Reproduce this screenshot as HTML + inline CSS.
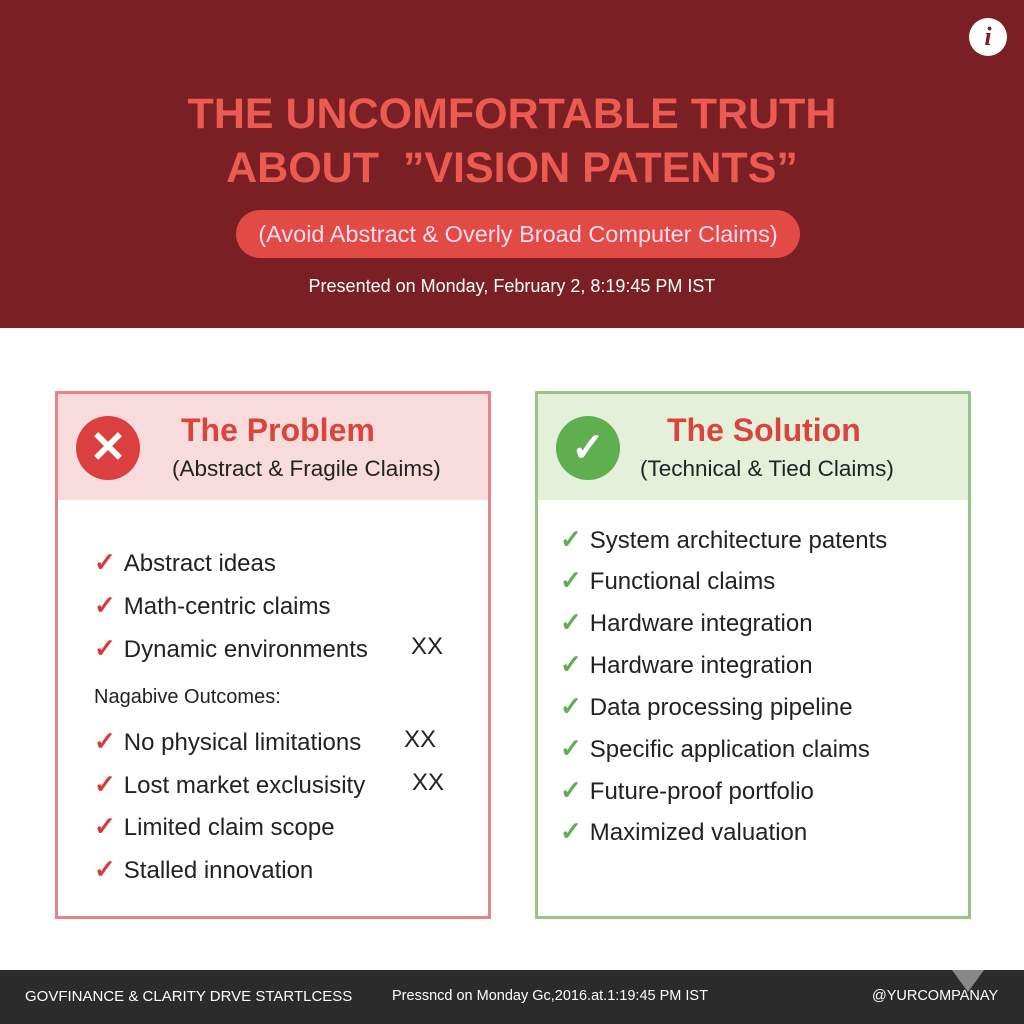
<!DOCTYPE html>
<html><head><style>
body{margin:0;width:1024px;height:1024px;position:relative;background:#fff;font-family:"Liberation Sans",sans-serif;overflow:hidden}
.a{position:absolute;white-space:nowrap}
.hdr{position:absolute;left:0;top:0;width:1024px;height:328px;background:#7a2025}
.t{left:0;width:1024px;text-align:center;color:#ec5a50;font-weight:bold;font-size:43px}
.box{position:absolute;top:391px;width:430px;height:522px;border:3px solid}
.li{font-size:24px;color:#222}
.ck{font-weight:bold;margin-right:8px;font-size:26px}
</style></head><body>
<div class="hdr"></div>
<div class="a" style="left:969px;top:18px;width:38px;height:38px;border-radius:50%;background:#fff;color:#7a2025;font:italic bold 26px 'Liberation Serif',serif;text-align:center;line-height:38px">i</div>
<div class="a t" style="top:90px">THE UNCOMFORTABLE TRUTH</div>
<div class="a t" style="top:144px">ABOUT &nbsp;”VISION PATENTS”</div>
<div class="a" style="left:236px;top:210px;width:564px;height:48px;border-radius:24px;background:#e14a45;color:#fde;font-size:23.5px;text-align:center;line-height:48px">(Avoid Abstract &amp; Overly Broad Computer Claims)</div>
<div class="a" style="left:0;width:1024px;top:276px;text-align:center;color:#fff;font-size:18px">Presented on Monday, February 2, 8:19:45 PM IST</div>

<div class="box" style="left:55px;border-color:#e5848a"><div style="height:106px;background:#f8dcdc"></div></div>
<div class="a" style="left:76px;top:416px;width:64px;height:64px;border-radius:50%;background:#dc3f3f;color:#fff;font-size:44px;text-align:center;line-height:64px;font-weight:bold">✕</div>
<div class="a" style="left:181px;top:412px;color:#d9443f;font-size:32px;font-weight:bold">The Problem</div>
<div class="a" style="left:172px;top:456px;color:#222;font-size:22.5px">(Abstract &amp; Fragile Claims)</div>

<div class="box" style="left:535px;border-color:#96c585"><div style="height:106px;background:#e5f0da"></div></div>
<div class="a" style="left:556px;top:416px;width:64px;height:64px;border-radius:50%;background:#5fae50;color:#fff;font-size:40px;text-align:center;line-height:64px;font-weight:bold">✓</div>
<div class="a" style="left:667px;top:412px;color:#d9443f;font-size:32px;font-weight:bold">The Solution</div>
<div class="a" style="left:640px;top:456px;color:#222;font-size:22.5px">(Technical &amp; Tied Claims)</div>

<div class="a li" style="left:94px;top:547px"><span class="ck" style="color:#d63b3b">✓</span>Abstract ideas</div>
<div class="a li" style="left:94px;top:590px"><span class="ck" style="color:#d63b3b">✓</span>Math-centric claims</div>
<div class="a li" style="left:94px;top:633px"><span class="ck" style="color:#d63b3b">✓</span>Dynamic environments</div>
<div class="a li" style="left:411px;top:633px">XX</div>
<div class="a" style="left:94px;top:686px;font-size:20px;color:#222">Nagabive Outcomes:</div>
<div class="a li" style="left:94px;top:726px"><span class="ck" style="color:#d63b3b">✓</span>No physical limitations</div>
<div class="a li" style="left:404px;top:726px">XX</div>
<div class="a li" style="left:94px;top:769px"><span class="ck" style="color:#d63b3b">✓</span>Lost market exclusisity</div>
<div class="a li" style="left:412px;top:769px">XX</div>
<div class="a li" style="left:94px;top:811px"><span class="ck" style="color:#d63b3b">✓</span>Limited claim scope</div>
<div class="a li" style="left:94px;top:854px"><span class="ck" style="color:#d63b3b">✓</span>Stalled innovation</div>

<div class="a li" style="left:560px;top:524px"><span class="ck" style="color:#5fae50">✓</span>System architecture patents</div>
<div class="a li" style="left:560px;top:565px"><span class="ck" style="color:#5fae50">✓</span>Functional claims</div>
<div class="a li" style="left:560px;top:607px"><span class="ck" style="color:#5fae50">✓</span>Hardware integration</div>
<div class="a li" style="left:560px;top:649px"><span class="ck" style="color:#5fae50">✓</span>Hardware integration</div>
<div class="a li" style="left:560px;top:691px"><span class="ck" style="color:#5fae50">✓</span>Data processing pipeline</div>
<div class="a li" style="left:560px;top:733px"><span class="ck" style="color:#5fae50">✓</span>Specific application claims</div>
<div class="a li" style="left:560px;top:775px"><span class="ck" style="color:#5fae50">✓</span>Future-proof portfolio</div>
<div class="a li" style="left:560px;top:816px"><span class="ck" style="color:#5fae50">✓</span>Maximized valuation</div>

<div class="a" style="left:0;top:970px;width:1024px;height:54px;background:#2c2b2b"></div>
<div class="a" style="left:952px;top:970px;width:0;height:0;border-left:16px solid transparent;border-right:16px solid transparent;border-top:22px solid #888"></div>
<div class="a" style="left:25px;top:988px;color:#fff;font-size:15px">GOVFINANCE &amp; CLARITY DRVE STARTLCESS</div>
<div class="a" style="left:392px;top:988px;color:#fff;font-size:14.5px">Pressncd on Monday Gc,2016.at.1:19:45 PM IST</div>
<div class="a" style="left:872px;top:988px;color:#fff;font-size:14.5px">@YURCOMPANAY</div>
</body></html>
